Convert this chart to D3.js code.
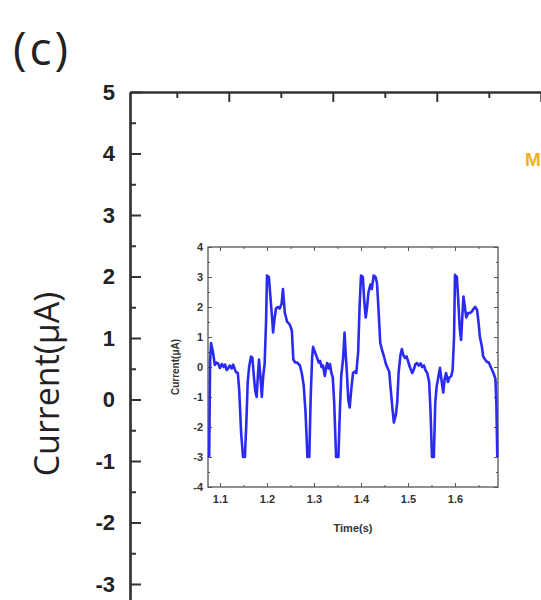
<!DOCTYPE html>
<html>
<head>
<meta charset="utf-8">
<script src="https://cdn.jsdelivr.net/npm/d3@7/dist/d3.min.js"></script>
<style>
  html, body { margin: 0; padding: 0; background: #fff; }
  svg { display: block; }
</style>
</head>
<body>
<script>
// ---------- data ----------
const panelLabel = "(c)";
const mainYLabel = "Current(μA)";
const mainYTicks = [-3, -2, -1, 0, 1, 2, 3, 4, 5];
const mainYMinor = [-3.5, -2.5, -1.5, -0.5, 0.5, 1.5, 2.5, 3.5, 4.5];
const mainXTicks = [1, 2, 3, 4];
const mainXMinor = [0.5, 1.5, 2.5, 3.5];
const legendText = "M";

const insetXLabel = "Time(s)";
const insetYLabel = "Current(μA)";
const insetXTicks = [1.1, 1.2, 1.3, 1.4, 1.5, 1.6];
const insetXMinor = [1.15, 1.25, 1.35, 1.45, 1.55, 1.65];
const insetYTicks = [-4, -3, -2, -1, 0, 1, 2, 3, 4];
const insetYMinor = [-3.5, -2.5, -1.5, -0.5, 0.5, 1.5, 2.5, 3.5];

const time = [
1.077,1.079,1.081,1.085,1.089,1.093,1.096,1.100,1.104,1.108,1.111,1.114,1.117,1.121,1.125,1.128,1.131,1.134,1.138,1.141,
1.145,1.149,1.153,1.156,1.159,1.162,1.166,1.169,1.172,1.175,1.178,1.181,1.183,1.186,1.189,1.192,1.195,1.198,1.200,1.204,
1.207,1.211,1.213,1.216,1.219,1.223,1.227,1.231,1.234,1.238,1.243,1.247,1.250,1.253,1.256,1.260,1.264,1.270,1.274,1.278,
1.282,1.286,1.290,1.293,1.296,1.298,1.302,1.306,1.310,1.313,1.316,1.319,1.323,1.326,1.328,1.331,1.334,1.337,1.340,1.343,
1.347,1.352,1.355,1.358,1.362,1.365,1.368,1.370,1.373,1.376,1.379,1.383,1.387,1.390,1.394,1.397,1.400,1.404,1.407,1.410,
1.413,1.416,1.420,1.423,1.427,1.431,1.434,1.437,1.441,1.445,1.449,1.453,1.457,1.460,1.463,1.467,1.470,1.474,1.477,1.480,
1.484,1.487,1.490,1.494,1.497,1.500,1.504,1.509,1.512,1.516,1.519,1.523,1.527,1.530,1.534,1.537,1.541,1.545,1.548,1.551,
1.555,1.558,1.561,1.565,1.568,1.571,1.575,1.578,1.581,1.585,1.588,1.592,1.595,1.598,1.600,1.604,1.607,1.610,1.613,1.616,
1.618,1.621,1.624,1.628,1.632,1.636,1.640,1.643,1.647,1.650,1.653,1.657,1.660,1.664,1.668,1.672,1.676,1.679,1.683,1.686,
1.688,1.690];
const current = [
-3.0,0.2,0.8,0.5,0.07,0.15,0.12,-0.03,0.1,0.0,0.08,-0.1,-0.05,0.05,-0.05,0.08,-0.05,-0.17,-0.2,-0.8,
-2.2,-3.0,-3.0,-1.9,-0.5,0.0,0.35,0.3,-0.3,-0.8,-1.0,-0.2,0.25,-0.3,-1.0,-0.3,0.1,1.5,3.05,3.0,
2.4,1.6,1.15,1.6,1.95,2.0,1.95,2.1,2.6,1.8,1.5,1.45,1.35,1.2,0.25,0.15,0.15,0.05,-0.2,-0.6,
-1.5,-3.0,-3.0,-1.0,0.3,0.67,0.5,0.33,0.15,0.2,0.0,0.05,-0.3,0.0,0.13,-0.05,0.1,-0.2,-0.35,-1.2,
-3.0,-3.0,-1.5,-0.3,0.3,1.15,0.3,-0.2,-1.1,-1.35,-0.8,-0.2,-0.15,-0.2,0.5,2.0,3.05,3.0,2.2,1.65,
2.0,2.5,2.75,2.6,3.05,3.0,2.8,2.0,0.8,0.55,0.35,0.1,-0.05,-0.15,-0.7,-1.4,-1.85,-1.6,-1.2,-0.2,
0.4,0.6,0.4,0.3,0.35,0.2,0.0,-0.2,-0.1,0.1,0.13,0.05,0.12,0.0,0.05,-0.1,-0.2,-0.5,-1.5,-3.0,
-3.0,-1.2,-0.65,-0.3,-0.03,-0.4,-0.85,-0.4,-0.2,-0.5,-0.35,-0.3,-0.1,1.0,3.07,3.0,2.2,1.3,0.9,1.8,
2.35,2.0,1.65,1.8,1.8,1.85,1.95,2.0,1.9,1.5,1.0,0.7,0.35,0.25,0.17,0.15,0.0,-0.1,-0.25,-0.4,
-1.2,-3.0];

// ---------- drawing ----------
const W = 541, H = 600;
const svg = d3.select("body").append("svg").attr("width", W).attr("height", H);
const axisColor = "#333";
const hyphenInt = d => String(d);          // keeps ASCII hyphen-minus like the original
const hyphen1 = d => d.toFixed(1);

// main axes
const mx = d3.scaleLinear().domain([0.05, 4.05]).range([130, 546]);
const my = d3.scaleLinear().domain([-3.5, 5]).range([614.75, 92]);

const gMain = svg.append("g");
const gLeft = gMain.append("g").attr("transform", `translate(${mx.range()[0]},0)`)
  .call(d3.axisLeft(my).tickValues(mainYTicks).tickSize(-11).tickSizeOuter(0).tickPadding(15).tickFormat(hyphenInt));
gLeft.append("g").call(d3.axisLeft(my).tickValues(mainYMinor).tickSize(-6).tickSizeOuter(0).tickFormat(""));
gLeft.selectAll("path.domain").attr("stroke", axisColor).attr("stroke-width", 2.2);
gLeft.selectAll(".tick line").attr("stroke", axisColor).attr("stroke-width", 2);
gLeft.selectAll(".tick text")
  .attr("font-family", "Liberation Sans, Arial, sans-serif")
  .attr("font-size", 22).attr("font-weight", "bold").attr("fill", "#222");

const gTop = gMain.append("g").attr("transform", `translate(0,${my.range()[1]})`)
  .call(d3.axisTop(mx).tickValues(mainXTicks).tickSize(-10).tickSizeOuter(0).tickFormat(""));
gTop.append("g").call(d3.axisTop(mx).tickValues(mainXMinor).tickSize(-6).tickSizeOuter(0).tickFormat(""));
gTop.selectAll("path.domain").attr("stroke", axisColor).attr("stroke-width", 2.2);
gTop.selectAll(".tick line").attr("stroke", axisColor).attr("stroke-width", 2);

// main y label
svg.append("text")
  .attr("transform", `translate(59,${384}) rotate(-90)`)
  .attr("text-anchor", "middle")
  .attr("font-family", "Open Sans, sans-serif")
  .attr("font-size", 34).attr("fill", "#222")
  .text(mainYLabel);

// panel label
svg.append("text")
  .attr("x", 13).attr("y", 65)
  .attr("font-family", "Open Sans, sans-serif")
  .attr("font-size", 46).attr("letter-spacing", 3).attr("fill", "#222")
  .text(panelLabel);

// orange legend text (cut off in the original crop)
svg.append("text")
  .attr("x", 525).attr("y", 166)
  .attr("font-family", "Liberation Sans, Arial, sans-serif")
  .attr("font-size", 19).attr("font-weight", "bold").attr("fill", "#f2b01e")
  .text(legendText);

// ---------- inset ----------
const ix = d3.scaleLinear().domain([1.0745, 1.6915]).range([208, 498]);
const iy = d3.scaleLinear().domain([-4, 4]).range([487, 247]);
const gIn = svg.append("g");
const inColor = "#555";

gIn.append("rect")
  .attr("x", ix.range()[0]).attr("y", iy.range()[1])
  .attr("width", ix.range()[1] - ix.range()[0])
  .attr("height", iy.range()[0] - iy.range()[1])
  .attr("fill", "#fff").attr("stroke", inColor).attr("stroke-width", 1.3);

function styleInset(g) {
  g.selectAll("path.domain").remove();
  g.selectAll(".tick line").attr("stroke", inColor).attr("stroke-width", 1);
  g.selectAll(".tick text")
    .attr("font-family", "Liberation Sans, Arial, sans-serif")
    .attr("font-size", 11).attr("font-weight", "bold").attr("fill", "#333");
}
const gB = gIn.append("g").attr("transform", `translate(0,${iy.range()[0]})`)
  .call(d3.axisBottom(ix).tickValues(insetXTicks).tickSize(-4).tickPadding(8).tickFormat(hyphen1));
gB.append("g").call(d3.axisBottom(ix).tickValues(insetXMinor).tickSize(-2).tickFormat(""));
styleInset(gB);
const gT = gIn.append("g").attr("transform", `translate(0,${iy.range()[1]})`)
  .call(d3.axisTop(ix).tickValues(insetXTicks).tickSize(-4).tickFormat(""));
gT.append("g").call(d3.axisTop(ix).tickValues(insetXMinor).tickSize(-2).tickFormat(""));
styleInset(gT);
const gL = gIn.append("g").attr("transform", `translate(${ix.range()[0]},0)`)
  .call(d3.axisLeft(iy).tickValues(insetYTicks).tickSize(-4).tickPadding(5).tickFormat(hyphenInt));
gL.append("g").call(d3.axisLeft(iy).tickValues(insetYMinor).tickSize(-2).tickFormat(""));
styleInset(gL);
const gR = gIn.append("g").attr("transform", `translate(${ix.range()[1]},0)`)
  .call(d3.axisRight(iy).tickValues(insetYTicks).tickSize(-4).tickFormat(""));
gR.append("g").call(d3.axisRight(iy).tickValues(insetYMinor).tickSize(-2).tickFormat(""));
styleInset(gR);

// line
const pts = time.map((t, i) => [t, current[i]]);
gIn.append("path")
  .datum(pts)
  .attr("fill", "none")
  .attr("stroke", "#2a2af2")
  .attr("stroke-width", 2.6)
  .attr("stroke-linejoin", "round")
  .attr("d", d3.line().x(d => ix(d[0])).y(d => iy(d[1])));

// inset labels
gIn.append("text")
  .attr("x", 353).attr("y", 532)
  .attr("text-anchor", "middle")
  .attr("font-family", "Liberation Sans, Arial, sans-serif")
  .attr("font-size", 11).attr("font-weight", "bold").attr("fill", "#333")
  .text(insetXLabel);
gIn.append("text")
  .attr("transform", `translate(179,367) rotate(-90)`)
  .attr("text-anchor", "middle")
  .attr("font-family", "Liberation Sans, Arial, sans-serif")
  .attr("font-size", 10).attr("font-weight", "bold").attr("fill", "#333")
  .text(insetYLabel);
</script>
</body>
</html>
